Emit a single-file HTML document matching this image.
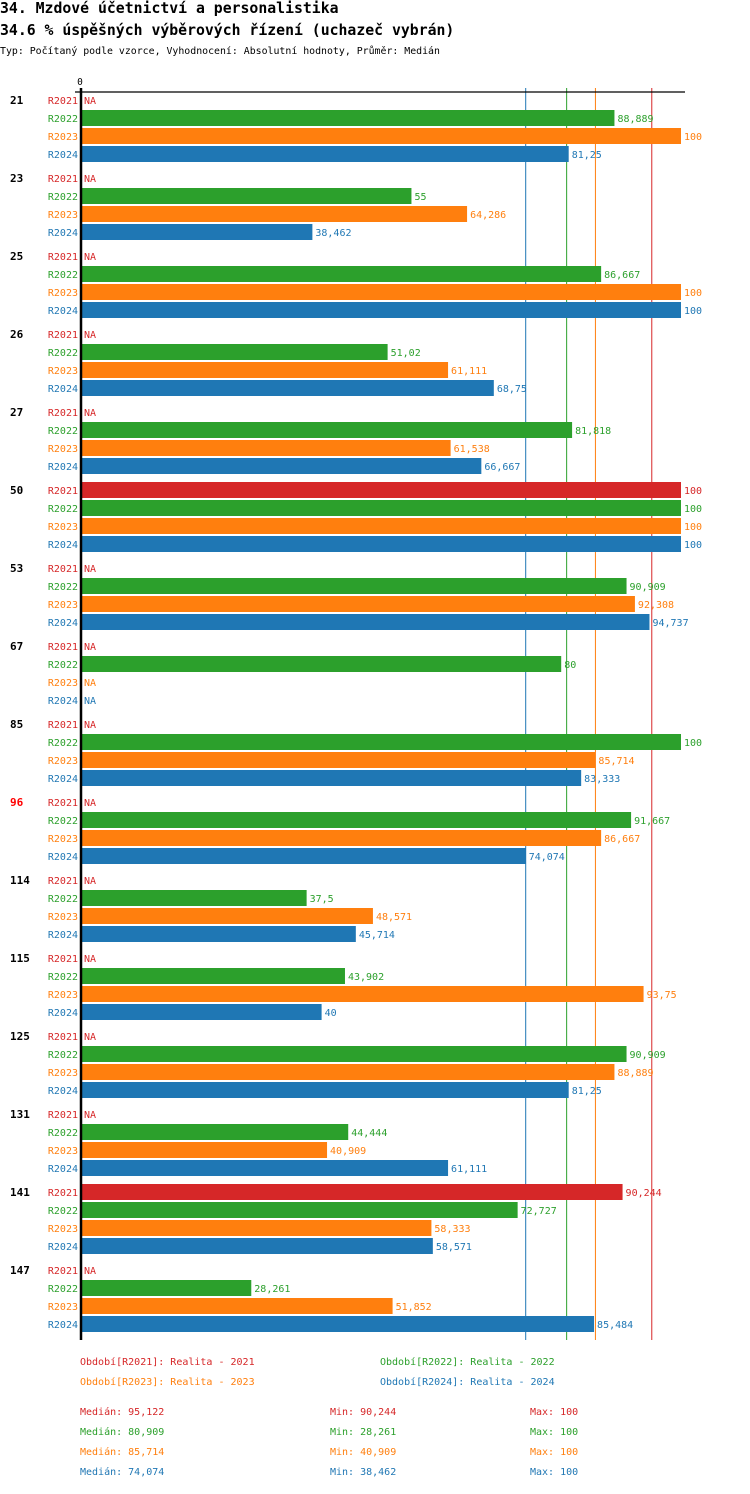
<!DOCTYPE html>
<html><head><meta charset="utf-8">
<style>
body{margin:0;background:#fff;width:750px;height:1490px;overflow:hidden;font-family:"DejaVu Sans Mono","Liberation Mono",monospace;}
svg text{font-family:"DejaVu Sans Mono","Liberation Mono",monospace;}
</style></head><body>
<svg id="c" width="750" height="1490" xmlns="http://www.w3.org/2000/svg">
<text x="0" y="13" font-size="14.8" font-weight="bold">34. Mzdové účetnictví a personalistika</text>
<text x="0" y="35" font-size="14.8" font-weight="bold">34.6 % úspěšných výběrových řízení (uchazeč vybrán)</text>
<text x="0" y="54" font-size="9.9">Typ: Počítaný podle vzorce, Vyhodnocení: Absolutní hodnoty, Průměr: Medián</text>
</svg>
<script>
const groups=['21','23','25','26','27','50','53','67','85','96','114','115','125','131','141','147'];
const seriesNames=['R2021','R2022','R2023','R2024'];
const r2021=[null,null,null,null,null,100,null,null,null,null,null,null,null,null,90.244,null];
const r2022=[88.889,55,86.667,51.02,81.818,100,90.909,80,100,91.667,37.5,43.902,90.909,44.444,72.727,28.261];
const r2023=[100,64.286,100,61.111,61.538,100,92.308,null,85.714,86.667,48.571,93.75,88.889,40.909,58.333,51.852];
const r2024=[81.25,38.462,100,68.75,66.667,100,94.737,null,83.333,74.074,45.714,40,81.25,61.111,58.571,85.484];
const medians=[95.122,80.909,85.714,74.074];
const mins=[90.244,28.261,40.909,38.462];
const maxs=[100,100,100,100];
const colors=['#d62728','#2ca02c','#ff7f0e','#1f77b4'];
const svg=document.getElementById('c');
const NS='http://www.w3.org/2000/svg';
const x0=82, sc=5.99;
const xs=v=>x0+v*sc;
const yRow=(g,s)=>100+g*78+s*18;
const fmt=v=>String(v).replace('.',',');
const FS=10;
function mk(t,a,txt){const e=document.createElementNS(NS,t);for(const k in a)e.setAttribute(k,a[k]);if(txt!==undefined)e.textContent=txt;svg.appendChild(e);return e;}
const all=[r2021,r2022,r2023,r2024];
medians.forEach((m,i)=>{const l=mk('line',{x1:xs(m),x2:xs(m),y1:88,y2:1340,stroke:colors[i],'stroke-width':1});

});
let a=mk('line',{x1:75,x2:685,y1:92,y2:92,stroke:'#000','stroke-width':1.2});


let t0=mk('text',{x:80,y:85,'font-size':9.5,'text-anchor':'middle'},'0');


groups.forEach((g,gi)=>{
 const gl=mk('text',{x:10,y:yRow(gi,0)+4,'font-size':11,'font-weight':'bold',fill:g==='96'?'#ff0000':'#000'},g);
 
 
 all.forEach((arr,si)=>{
  const y=yRow(gi,si);const v=arr[gi];
  const sl=mk('text',{x:78,y:y+4,'font-size':FS,'text-anchor':'end',fill:colors[si]},seriesNames[si]);
  
  
  if(v===null){const n=mk('text',{x:84,y:y+4,'font-size':FS,fill:colors[si]},'NA');
   
   return;}
  const r=mk('rect',{x:x0,y:y-8,width:xs(v)-x0,height:16,fill:colors[si]});
  
  
  const vl=mk('text',{x:xs(v)+3,y:y+4,'font-size':FS,fill:colors[si]},fmt(v));
  
  
 });
});
let ya=mk('line',{x1:81,x2:81,y1:88,y2:1340,stroke:'#000','stroke-width':2.5});


const legPos=[[80,1365],[380,1365],[80,1385],[380,1385]];
seriesNames.forEach((s,i)=>{
 const l=mk('text',{x:legPos[i][0],y:legPos[i][1],'font-size':FS,fill:colors[i]},'Období['+s+']: Realita - '+s.slice(1));
 
 
 const y=1415+i*20;
 const m=mk('text',{x:80,y:y,'font-size':FS,fill:colors[i]},'Medián: '+fmt(medians[i]));
 
 
 const mi=mk('text',{x:330,y:y,'font-size':FS,fill:colors[i]},'Min: '+fmt(mins[i]));
 
 
 const mx=mk('text',{x:530,y:y,'font-size':FS,fill:colors[i]},'Max: '+fmt(maxs[i]));
 
 
});
</script>
</body></html>
